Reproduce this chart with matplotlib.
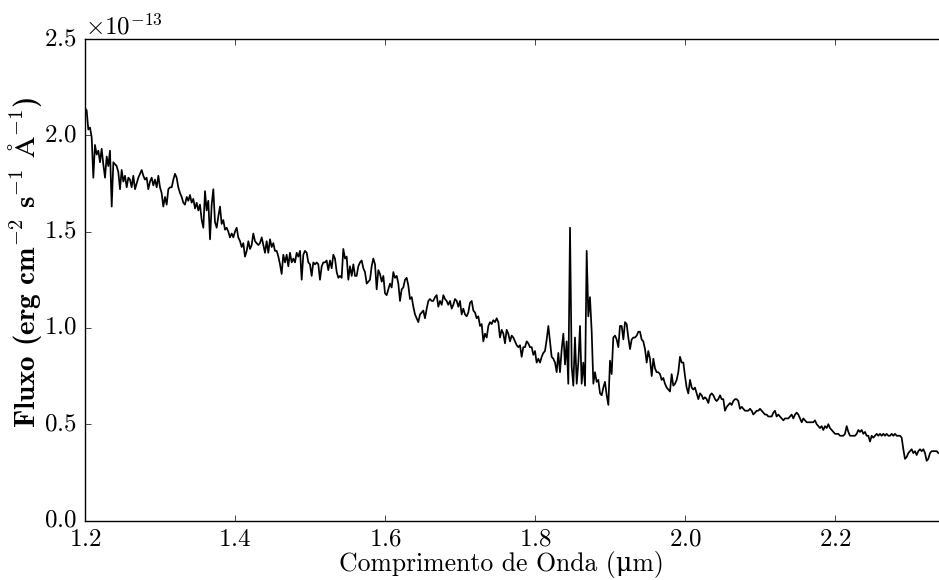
import matplotlib
matplotlib.use("Agg")
import matplotlib.pyplot as plt

# wavelength grid of the spectrum (micron)
wavelength = [
    1.2000, 1.2022, 1.2044, 1.2067, 1.2089, 1.2111, 1.2133, 1.2156, 1.2178,
    1.2200, 1.2222, 1.2244, 1.2267, 1.2289, 1.2311, 1.2333, 1.2356, 1.2378,
    1.2400, 1.2422, 1.2444, 1.2467, 1.2489, 1.2511, 1.2533, 1.2556, 1.2578,
    1.2600, 1.2622, 1.2644, 1.2667, 1.2689, 1.2711, 1.2733, 1.2756, 1.2778,
    1.2800, 1.2822, 1.2844, 1.2867, 1.2889, 1.2911, 1.2933, 1.2956, 1.2978,
    1.3000, 1.3022, 1.3044, 1.3067, 1.3089, 1.3111, 1.3133, 1.3156, 1.3178,
    1.3200, 1.3222, 1.3244, 1.3267, 1.3289, 1.3311, 1.3333, 1.3356, 1.3378,
    1.3400, 1.3422, 1.3444, 1.3467, 1.3489, 1.3511, 1.3533, 1.3556, 1.3578,
    1.3600, 1.3622, 1.3644, 1.3667, 1.3689, 1.3711, 1.3733, 1.3756, 1.3778,
    1.3800, 1.3822, 1.3844, 1.3867, 1.3889, 1.3911, 1.3933, 1.3956, 1.3978,
    1.4000, 1.4022, 1.4044, 1.4067, 1.4089, 1.4111, 1.4133, 1.4156, 1.4178,
    1.4200, 1.4222, 1.4244, 1.4267, 1.4289, 1.4311, 1.4333, 1.4356, 1.4378,
    1.4400, 1.4422, 1.4444, 1.4467, 1.4489, 1.4511, 1.4533, 1.4556, 1.4578,
    1.4600, 1.4622, 1.4644, 1.4667, 1.4689, 1.4711, 1.4733, 1.4756, 1.4778,
    1.4800, 1.4822, 1.4844, 1.4867, 1.4889, 1.4911, 1.4933, 1.4956, 1.4978,
    1.5000, 1.5022, 1.5044, 1.5067, 1.5089, 1.5111, 1.5133, 1.5156, 1.5178,
    1.5200, 1.5222, 1.5244, 1.5267, 1.5289, 1.5311, 1.5333, 1.5356, 1.5378,
    1.5400, 1.5422, 1.5444, 1.5467, 1.5489, 1.5511, 1.5533, 1.5556, 1.5578,
    1.5600, 1.5622, 1.5644, 1.5667, 1.5689, 1.5711, 1.5733, 1.5756, 1.5778,
    1.5800, 1.5822, 1.5844, 1.5867, 1.5889, 1.5911, 1.5933, 1.5956, 1.5978,
    1.6000, 1.6022, 1.6044, 1.6067, 1.6089, 1.6111, 1.6133, 1.6156, 1.6178,
    1.6200, 1.6222, 1.6244, 1.6267, 1.6289, 1.6311, 1.6333, 1.6356, 1.6378,
    1.6400, 1.6422, 1.6444, 1.6467, 1.6489, 1.6511, 1.6533, 1.6556, 1.6578,
    1.6600, 1.6622, 1.6644, 1.6667, 1.6689, 1.6711, 1.6733, 1.6756, 1.6778,
    1.6800, 1.6822, 1.6844, 1.6867, 1.6889, 1.6911, 1.6933, 1.6956, 1.6978,
    1.7000, 1.7022, 1.7044, 1.7067, 1.7089, 1.7111, 1.7133, 1.7156, 1.7178,
    1.7200, 1.7222, 1.7244, 1.7267, 1.7289, 1.7311, 1.7333, 1.7356, 1.7378,
    1.7400, 1.7422, 1.7444, 1.7467, 1.7489, 1.7511, 1.7533, 1.7556, 1.7578,
    1.7600, 1.7622, 1.7644, 1.7667, 1.7689, 1.7711, 1.7733, 1.7756, 1.7778,
    1.7800, 1.7822, 1.7844, 1.7867, 1.7889, 1.7911, 1.7933, 1.7956, 1.7978,
    1.8000, 1.8022, 1.8044, 1.8067, 1.8089, 1.8111, 1.8133, 1.8156, 1.8178,
    1.8200, 1.8222, 1.8244, 1.8267, 1.8289, 1.8311, 1.8333, 1.8356, 1.8378,
    1.8400, 1.8422, 1.8444, 1.8467, 1.8489, 1.8511, 1.8533, 1.8556, 1.8578,
    1.8600, 1.8622, 1.8644, 1.8667, 1.8689, 1.8711, 1.8733, 1.8756, 1.8778,
    1.8800, 1.8822, 1.8844, 1.8867, 1.8889, 1.8911, 1.8933, 1.8956, 1.8978,
    1.9000, 1.9022, 1.9044, 1.9067, 1.9089, 1.9111, 1.9133, 1.9156, 1.9178,
    1.9200, 1.9222, 1.9244, 1.9267, 1.9289, 1.9311, 1.9333, 1.9356, 1.9378,
    1.9400, 1.9422, 1.9444, 1.9467, 1.9489, 1.9511, 1.9533, 1.9556, 1.9578,
    1.9600, 1.9622, 1.9644, 1.9667, 1.9689, 1.9711, 1.9733, 1.9756, 1.9778,
    1.9800, 1.9822, 1.9844, 1.9867, 1.9889, 1.9911, 1.9933, 1.9956, 1.9978,
    2.0000, 2.0022, 2.0044, 2.0067, 2.0089, 2.0111, 2.0133, 2.0156, 2.0178,
    2.0200, 2.0222, 2.0244, 2.0267, 2.0289, 2.0311, 2.0333, 2.0356, 2.0378,
    2.0400, 2.0422, 2.0444, 2.0467, 2.0489, 2.0511, 2.0533, 2.0556, 2.0578,
    2.0600, 2.0622, 2.0644, 2.0667, 2.0689, 2.0711, 2.0733, 2.0756, 2.0778,
    2.0800, 2.0822, 2.0844, 2.0867, 2.0889, 2.0911, 2.0933, 2.0956, 2.0978,
    2.1000, 2.1022, 2.1044, 2.1067, 2.1089, 2.1111, 2.1133, 2.1156, 2.1178,
    2.1200, 2.1222, 2.1244, 2.1267, 2.1289, 2.1311, 2.1333, 2.1356, 2.1378,
    2.1400, 2.1422, 2.1444, 2.1467, 2.1489, 2.1511, 2.1533, 2.1556, 2.1578,
    2.1600, 2.1622, 2.1644, 2.1667, 2.1689, 2.1711, 2.1733, 2.1756, 2.1778,
    2.1800, 2.1822, 2.1844, 2.1867, 2.1889, 2.1911, 2.1933, 2.1956, 2.1978,
    2.2000, 2.2022, 2.2044, 2.2067, 2.2089, 2.2111, 2.2133, 2.2156, 2.2178,
    2.2200, 2.2222, 2.2244, 2.2267, 2.2289, 2.2311, 2.2333, 2.2356, 2.2378,
    2.2400, 2.2422, 2.2444, 2.2467, 2.2489, 2.2511, 2.2533, 2.2556, 2.2578,
    2.2600, 2.2622, 2.2644, 2.2667, 2.2689, 2.2711, 2.2733, 2.2756, 2.2778,
    2.2800, 2.2822, 2.2844, 2.2867, 2.2889, 2.2911, 2.2933, 2.2956, 2.2978,
    2.3000, 2.3022, 2.3044, 2.3067, 2.3089, 2.3111, 2.3133, 2.3156, 2.3178,
    2.3200, 2.3222, 2.3244, 2.3267, 2.3289, 2.3311, 2.3333, 2.3356, 2.3378,
]

# flux in units of 1e-13 erg cm-2 s-1 A-1
flux = [
    2.14, 2.13, 2.03, 2.04, 1.99, 1.78, 1.95, 1.90, 1.92,
    1.86, 1.93, 1.85, 1.78, 1.89, 1.84, 1.92, 1.63, 1.86,
    1.85, 1.84, 1.81, 1.72, 1.82, 1.76, 1.79, 1.73, 1.78,
    1.77, 1.73, 1.79, 1.72, 1.75, 1.78, 1.80, 1.82, 1.79,
    1.77, 1.78, 1.72, 1.76, 1.78, 1.74, 1.77, 1.73, 1.79,
    1.73, 1.70, 1.63, 1.68, 1.64, 1.72, 1.73, 1.73, 1.77,
    1.80, 1.78, 1.73, 1.70, 1.68, 1.65, 1.64, 1.68, 1.66,
    1.69, 1.65, 1.67, 1.62, 1.65, 1.61, 1.64, 1.56, 1.52,
    1.71, 1.61, 1.66, 1.46, 1.64, 1.72, 1.55, 1.52, 1.58,
    1.63, 1.54, 1.56, 1.51, 1.52, 1.50, 1.47, 1.49, 1.47,
    1.50, 1.52, 1.47, 1.45, 1.42, 1.44, 1.37, 1.40, 1.45,
    1.41, 1.43, 1.49, 1.45, 1.44, 1.43, 1.44, 1.47, 1.43,
    1.39, 1.45, 1.39, 1.46, 1.42, 1.44, 1.40, 1.40, 1.37,
    1.33, 1.28, 1.38, 1.34, 1.38, 1.32, 1.39, 1.34, 1.36,
    1.34, 1.39, 1.37, 1.40, 1.25, 1.38, 1.40, 1.39, 1.34,
    1.33, 1.27, 1.34, 1.33, 1.34, 1.33, 1.25, 1.32, 1.34,
    1.34, 1.35, 1.30, 1.35, 1.31, 1.38, 1.36, 1.29, 1.26,
    1.27, 1.26, 1.41, 1.36, 1.37, 1.25, 1.32, 1.27, 1.33,
    1.27, 1.27, 1.32, 1.34, 1.35, 1.31, 1.29, 1.23, 1.24,
    1.25, 1.32, 1.36, 1.33, 1.20, 1.30, 1.28, 1.24, 1.27,
    1.18, 1.17, 1.20, 1.23, 1.21, 1.29, 1.26, 1.27, 1.23,
    1.14, 1.20, 1.21, 1.25, 1.26, 1.22, 1.15, 1.16, 1.11,
    1.07, 1.05, 1.03, 1.07, 1.08, 1.09, 1.05, 1.10, 1.14,
    1.15, 1.14, 1.14, 1.16, 1.17, 1.11, 1.14, 1.12, 1.17,
    1.15, 1.14, 1.12, 1.14, 1.10, 1.12, 1.15, 1.14, 1.11,
    1.14, 1.07, 1.10, 1.07, 1.06, 1.08, 1.13, 1.14, 1.09,
    1.08, 1.05, 1.06, 1.01, 1.02, 0.93, 0.97, 0.95, 1.01,
    1.03, 1.02, 1.04, 1.03, 1.05, 1.03, 0.95, 0.99, 0.97,
    0.92, 0.99, 0.97, 0.93, 0.96, 0.95, 0.93, 0.91, 0.90,
    0.91, 0.85, 0.90, 0.90, 0.93, 0.92, 0.90, 0.90, 0.86,
    0.88, 0.82, 0.84, 0.82, 0.85, 0.87, 0.88, 0.94, 1.01,
    0.93, 0.85, 0.84, 0.82, 0.77, 0.87, 0.77, 0.89, 0.97,
    0.81, 0.93, 0.71, 1.52, 0.80, 0.70, 0.95, 0.71, 0.82,
    1.01, 0.71, 0.82, 0.70, 1.40, 1.06, 1.16, 0.98, 0.71,
    0.77, 0.72, 0.73, 0.66, 0.65, 0.69, 0.72, 0.65, 0.60,
    0.83, 0.76, 0.95, 0.96, 0.94, 0.90, 1.01, 1.01, 0.94,
    1.03, 1.02, 0.95, 0.89, 0.94, 0.95, 0.95, 0.96, 0.98,
    0.98, 0.94, 0.93, 0.89, 0.82, 0.88, 0.84, 0.75, 0.84,
    0.79, 0.77, 0.77, 0.76, 0.73, 0.74, 0.71, 0.69, 0.68,
    0.67, 0.76, 0.70, 0.71, 0.73, 0.77, 0.85, 0.82, 0.82,
    0.75, 0.69, 0.66, 0.73, 0.69, 0.68, 0.69, 0.66, 0.63,
    0.66, 0.65, 0.63, 0.64, 0.63, 0.61, 0.65, 0.66, 0.65,
    0.63, 0.62, 0.63, 0.65, 0.63, 0.63, 0.57, 0.59, 0.60,
    0.61, 0.60, 0.62, 0.63, 0.63, 0.62, 0.58, 0.59, 0.58,
    0.57, 0.57, 0.57, 0.58, 0.57, 0.55, 0.56, 0.57, 0.57,
    0.58, 0.57, 0.56, 0.55, 0.55, 0.54, 0.54, 0.54, 0.56,
    0.57, 0.54, 0.55, 0.54, 0.53, 0.52, 0.53, 0.53, 0.53,
    0.54, 0.55, 0.53, 0.55, 0.56, 0.55, 0.53, 0.51, 0.53,
    0.52, 0.51, 0.51, 0.51, 0.51, 0.51, 0.52, 0.50, 0.49,
    0.48, 0.49, 0.47, 0.49, 0.48, 0.50, 0.48, 0.47, 0.46,
    0.45, 0.45, 0.45, 0.44, 0.44, 0.44, 0.45, 0.49, 0.46,
    0.44, 0.44, 0.44, 0.44, 0.45, 0.47, 0.46, 0.47, 0.45,
    0.46, 0.44, 0.44, 0.41, 0.44, 0.43, 0.44, 0.45, 0.44,
    0.45, 0.44, 0.45, 0.44, 0.45, 0.44, 0.44, 0.45, 0.44,
    0.45, 0.44, 0.44, 0.44, 0.43, 0.37, 0.32, 0.33, 0.35,
    0.36, 0.37, 0.35, 0.36, 0.34, 0.36, 0.37, 0.36, 0.37,
    0.35, 0.31, 0.32, 0.35, 0.36, 0.36, 0.36, 0.36, 0.35,
]

x_ticks = [1.2, 1.4, 1.6, 1.8, 2.0, 2.2]
y_ticks = [0.0, 0.5e-13, 1.0e-13, 1.5e-13, 2.0e-13, 2.5e-13]

plt.style.use("classic")
plt.rcParams["font.family"] = ["cmr10", "DejaVu Serif"]
plt.rcParams["mathtext.fontset"] = "cm"
plt.rcParams["axes.formatter.use_mathtext"] = True
plt.rcParams["font.size"] = 18

fig = plt.figure(figsize=(9.39, 5.8), dpi=100)
fig.patch.set_facecolor("white")
# right spine sits just past the edge of the figure
ax = fig.add_axes([85 / 939, 59.5 / 580, 858 / 939, 481.5 / 580])
ax.plot(wavelength, [f * 1e-13 for f in flux], color="black", lw=1.25)

ax.set_xlim(1.2, 2.344)
ax.set_ylim(0, 2.5e-13)
ax.set_xticks(x_ticks)
ax.set_yticks(y_ticks)
ax.tick_params(direction="in", length=4, top=True, right=False, pad=6,
               labelsize=18)
ax.minorticks_off()

# Greek mu is not in cmr10, so it falls back to DejaVu Serif
ax.set_xlabel("Comprimento de Onda (\u03bcm)", fontsize=18.5, labelpad=0)
ax.xaxis.label.set_x(0.485)
ax.set_ylabel(r"Fluxo (erg cm$^{-2}$ s$^{-1}$ $\mathrm{\AA}^{-1}$)",
              family=["cmb10", "DejaVu Serif"], fontsize=21, labelpad=0)
ax.yaxis.label.set_y(0.537)

fig.savefig("out.png", dpi=100, facecolor="white")
